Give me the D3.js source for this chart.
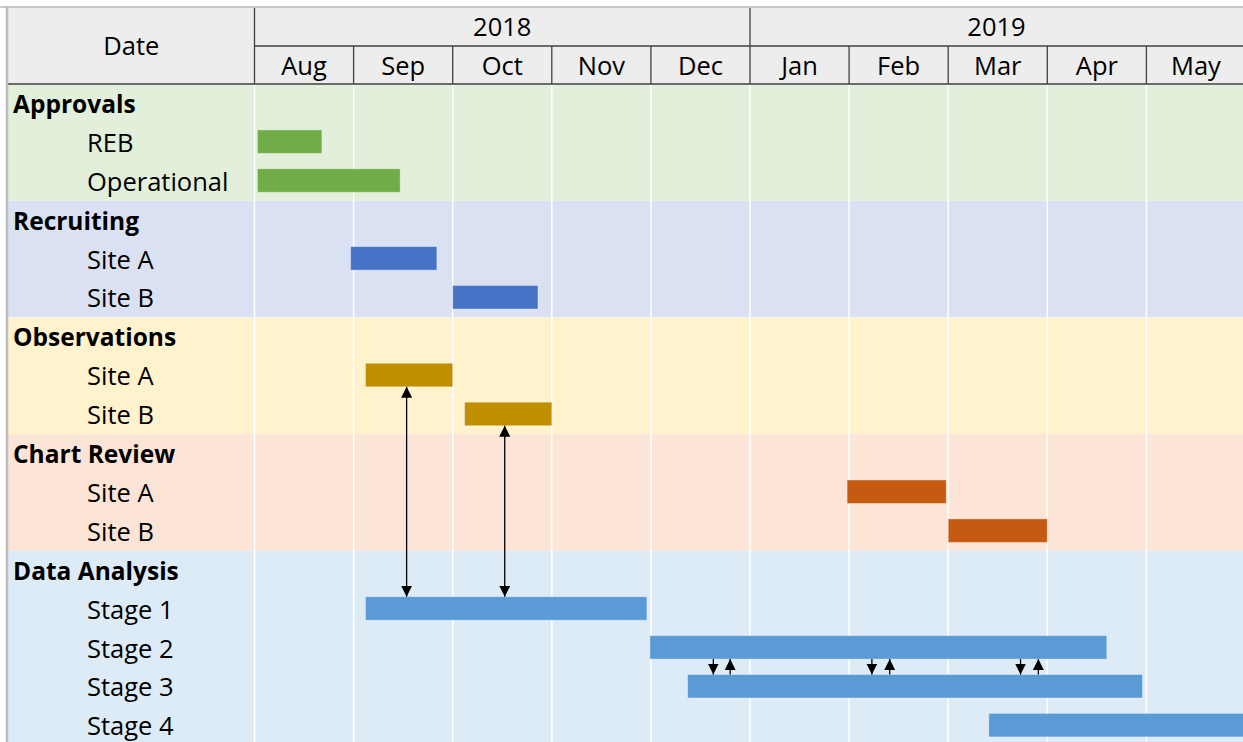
<!DOCTYPE html>
<html>
<head>
<meta charset="utf-8">
<script src="https://cdn.jsdelivr.net/npm/d3@7"></script>
<style>
  body { margin: 0; background: #fff; }
  svg { display: block; font-family: "Open Sans", sans-serif; }
</style>
</head>
<body>
<div id="canvas"></div>
<script>
// month columns and years (index = month number from Aug 2018)
var months = ["Aug", "Sep", "Oct", "Nov", "Dec", "Jan", "Feb", "Mar", "Apr", "May"];
var years = ["2018", "2019"];
var yearStart = [0, 5];
var yearEnd = [5, 10];

// groups and their tasks
var groups = ["Approvals", "Recruiting", "Observations", "Chart Review", "Data Analysis"];
var taskLabels = [
  ["REB", "Operational"],
  ["Site A", "Site B"],
  ["Site A", "Site B"],
  ["Site A", "Site B"],
  ["Stage 1", "Stage 2", "Stage 3", "Stage 4"]
];
// start / end in months from 1 Aug 2018
var taskStart = [
  [0.03, 0.03],
  [0.97, 2.0],
  [1.12, 2.12],
  [5.98, 7.0],
  [1.12, 3.99, 4.37, 7.41]
];
var taskEnd = [
  [0.68, 1.47],
  [1.84, 2.86],
  [2.0, 3.0],
  [6.98, 8.0],
  [3.96, 8.6, 8.96, 10.2]
];

// dependency arrows: month position, from task [g,i] to task [g,i]
var linkAt = [1.535, 2.525, 4.63, 4.80, 6.23, 6.41, 7.73, 7.91];
var linkFrom = [[2, 0], [2, 1], [4, 1], [4, 2], [4, 1], [4, 2], [4, 1], [4, 2]];
var linkTo = [[4, 0], [4, 0], [4, 2], [4, 1], [4, 2], [4, 1], [4, 2], [4, 1]];
var linkBoth = [true, true, false, false, false, false, false, false];

// styles
var groupBg = ["#e2efda", "#d9e1f2", "#fff2cc", "#fce4d6", "#ddebf7"];
var groupBar = ["#70ad47", "#4472c4", "#bf8f00", "#c55a11", "#5b9bd5"];

var width = 1243, height = 742;
var leftX = 8, topY = 8, labelW = 254.5, headerBottom = 84, rowH = 38.9;

var svgContainer = d3.select("#canvas").append("svg")
  .attr("width", width)
  .attr("height", height);

var defs = svgContainer.append("defs");
defs.append("marker").attr("id", "head")
  .attr("viewBox", "0 0 10 10").attr("refX", 10).attr("refY", 5)
  .attr("markerWidth", 11).attr("markerHeight", 11)
  .attr("markerUnits", "userSpaceOnUse")
  .attr("orient", "auto-start-reverse")
  .append("path").attr("d", "M0,0 L10,5 L0,10 Z").attr("fill", "#000");

// build the row list
var rows = [];
groups.forEach(function (g, gi) {
  rows.push({ type: "group", g: gi, label: g });
  taskLabels[gi].forEach(function (t, ti) {
    rows.push({ type: "task", g: gi, t: ti, label: t });
  });
});
function rowIndex(g, t) {
  for (var i = 0; i < rows.length; i++) {
    if (rows[i].type == "task" && rows[i].g == g && rows[i].t == t) return i;
  }
}

var x = d3.scaleLinear().domain([0, 10]).range([labelW, labelW + 10 * 99.1]);
var y = d3.scaleBand().domain(d3.range(rows.length))
  .range([headerBottom, headerBottom + rows.length * rowH]);
var barOff = 7, barH = 23.5;

// group backgrounds
groups.forEach(function (g, gi) {
  var idx = rows.map(function (r, i) { return r.g == gi ? i : -1; }).filter(function (i) { return i >= 0; });
  svgContainer.append("rect")
    .attr("x", leftX).attr("y", y(idx[0]))
    .attr("width", width - leftX).attr("height", idx.length * y.bandwidth())
    .attr("fill", groupBg[gi]);
});

// white gridlines
svgContainer.selectAll(".grid").data(d3.range(0, 11)).enter().append("line")
  .attr("x1", function (d) { return x(d); }).attr("x2", function (d) { return x(d); })
  .attr("y1", headerBottom).attr("y2", height)
  .attr("stroke", "#fff").attr("stroke-width", 1.5);

// header
svgContainer.append("rect").attr("x", leftX).attr("y", topY)
  .attr("width", width - leftX).attr("height", headerBottom - topY).attr("fill", "#ededed");
var hdr = svgContainer.append("g").attr("stroke", "#404040").attr("stroke-width", 1.3);
hdr.append("line").attr("x1", x(0)).attr("x2", width).attr("y1", 46).attr("y2", 46);
hdr.append("line").attr("x1", leftX).attr("x2", width).attr("y1", headerBottom).attr("y2", headerBottom);
hdr.append("line").attr("x1", x(0)).attr("x2", x(0)).attr("y1", topY).attr("y2", headerBottom);
hdr.selectAll(".mline").data(d3.range(1, 10)).enter().append("line")
  .attr("x1", function (d) { return x(d); }).attr("x2", function (d) { return x(d); })
  .attr("y1", function (d) { return yearStart.indexOf(d) >= 0 ? topY : 46; })
  .attr("y2", headerBottom);

// outer border
svgContainer.append("line").attr("x1", 0).attr("x2", width).attr("y1", topY - 1).attr("y2", topY - 1)
  .attr("stroke", "#c8c8c8").attr("stroke-width", 2);
svgContainer.append("line").attr("x1", leftX - 1).attr("x2", leftX - 1).attr("y1", topY - 2).attr("y2", height)
  .attr("stroke", "#bdbdbd").attr("stroke-width", 2.5);

var fs = 25.5, fsBold = 24.5;
svgContainer.append("text").attr("x", (leftX + labelW) / 2).attr("y", 55)
  .attr("text-anchor", "middle").attr("font-size", fs).text("Date");
svgContainer.selectAll(".year").data(years).enter().append("text")
  .attr("x", function (d, i) { return (x(yearStart[i]) + Math.min(x(yearEnd[i]), width)) / 2; })
  .attr("y", 36).attr("text-anchor", "middle").attr("font-size", fs).text(function (d) { return d; });
svgContainer.selectAll(".month").data(months).enter().append("text")
  .attr("x", function (d, i) { return (x(i) + x(i + 1)) / 2; })
  .attr("y", 75).attr("text-anchor", "middle").attr("font-size", fs).text(function (d) { return d; });

// row labels
svgContainer.selectAll(".rowlabel").data(rows).enter().append("text")
  .attr("x", function (d) { return d.type == "group" ? 13 : 87; })
  .attr("y", function (d, i) { return y(i) + rowH - 10; })
  .attr("font-size", function (d) { return d.type == "group" ? fsBold : fs; })
  .attr("font-weight", function (d) { return d.type == "group" ? "bold" : "normal"; })
  .text(function (d) { return d.label; });

// bars
var taskRows = rows.map(function (r, i) { r.i = i; return r; }).filter(function (r) { return r.type == "task"; });
svgContainer.selectAll(".bar").data(taskRows).enter().append("rect")
  .attr("x", function (d) { return x(taskStart[d.g][d.t]); })
  .attr("y", function (d) { return y(d.i) + barOff; })
  .attr("width", function (d) { return x(taskEnd[d.g][d.t]) - x(taskStart[d.g][d.t]); })
  .attr("height", barH)
  .attr("fill", function (d) { return groupBar[d.g]; })
  .attr("stroke", "#fff").attr("stroke-opacity", 0.35).attr("stroke-width", 1);

// arrows
svgContainer.selectAll(".link").data(linkAt).enter().append("line")
  .attr("x1", function (d) { return x(d); }).attr("x2", function (d) { return x(d); })
  .attr("y1", function (d, i) {
    var a = rowIndex(linkFrom[i][0], linkFrom[i][1]), b = rowIndex(linkTo[i][0], linkTo[i][1]);
    return a < b ? y(a) + barOff + barH : y(a) + barOff;
  })
  .attr("y2", function (d, i) {
    var a = rowIndex(linkFrom[i][0], linkFrom[i][1]), b = rowIndex(linkTo[i][0], linkTo[i][1]);
    return a < b ? y(b) + barOff : y(b) + barOff + barH;
  })
  .attr("stroke", "#000").attr("stroke-width", 1.3)
  .attr("marker-end", "url(#head)")
  .attr("marker-start", function (d, i) { return linkBoth[i] ? "url(#head)" : null; });
</script>
</body>
</html>
